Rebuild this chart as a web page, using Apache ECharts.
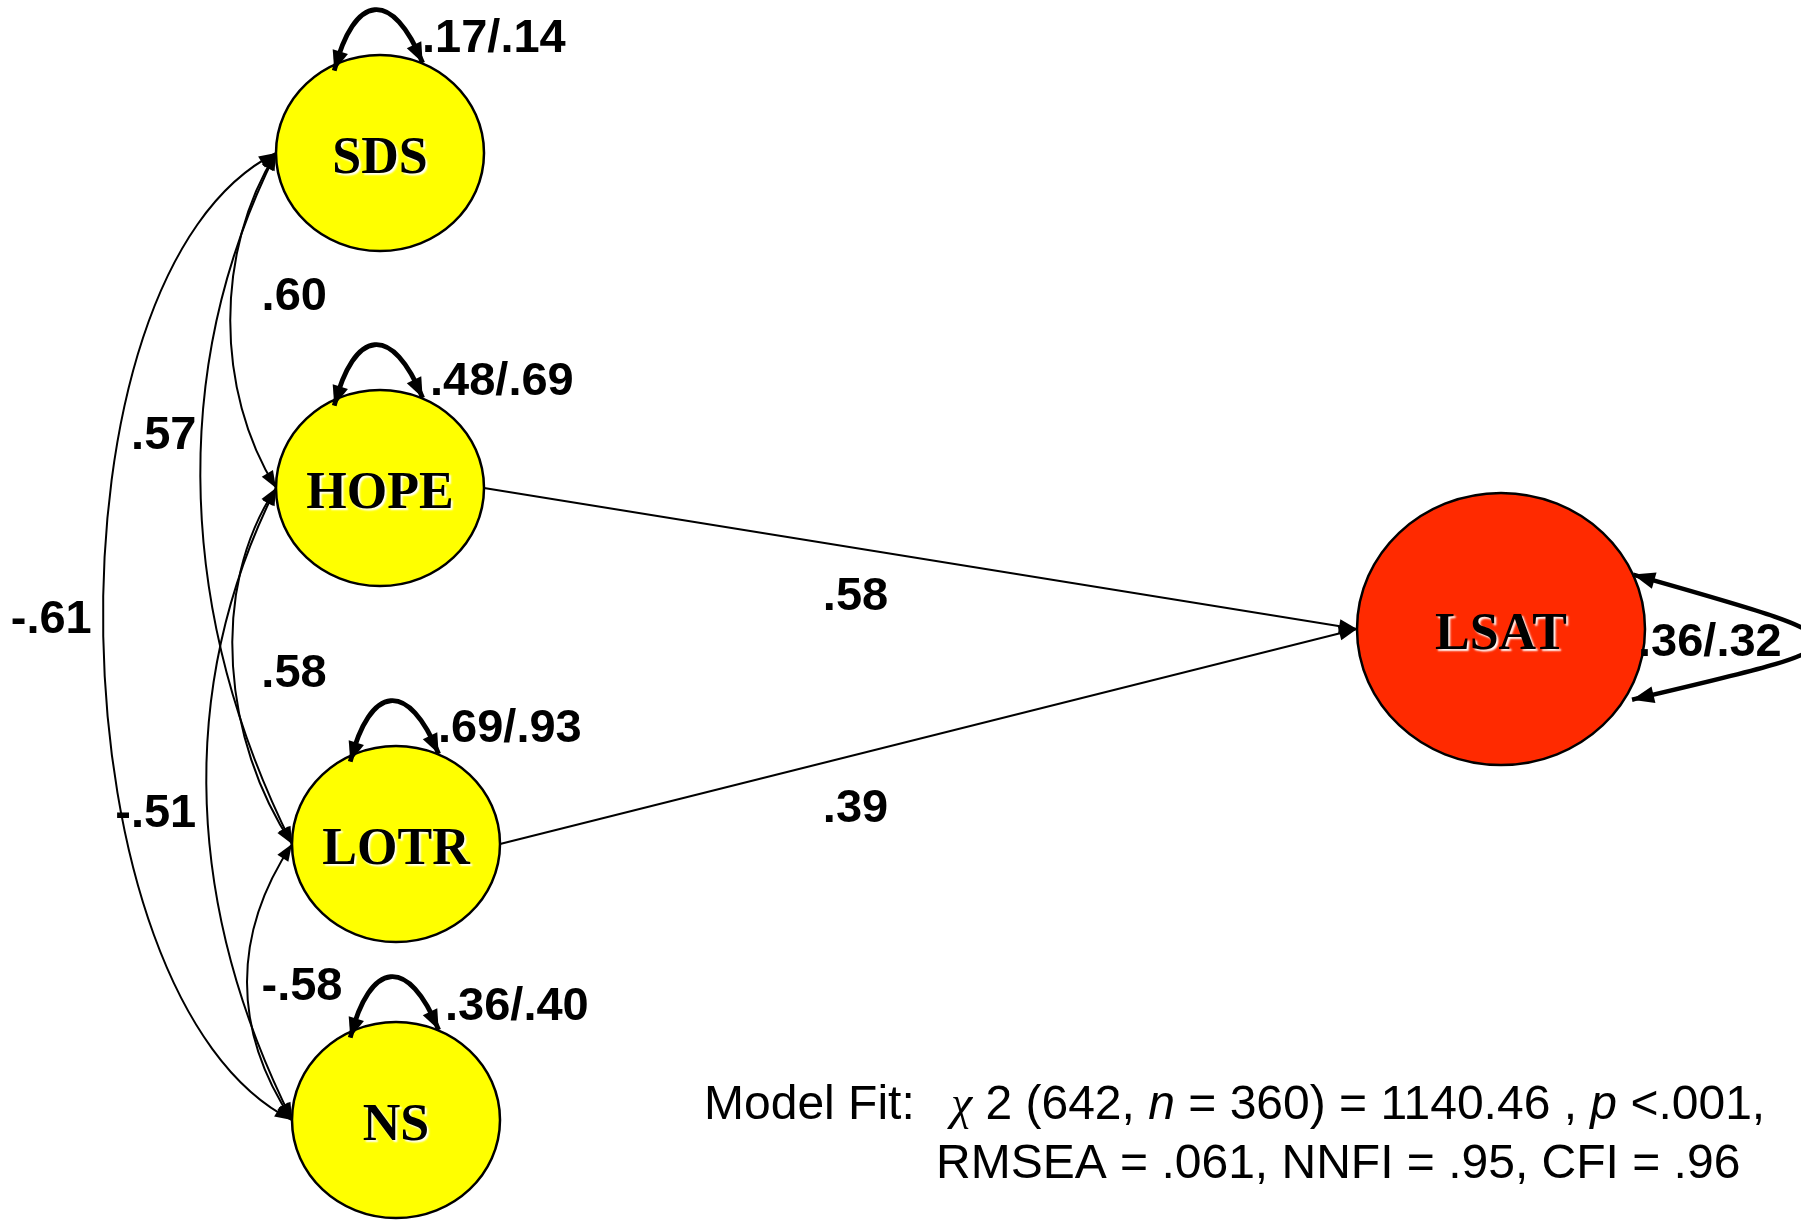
<!DOCTYPE html>
<html>
<head>
<meta charset="utf-8">
<script src="https://cdn.jsdelivr.net/npm/echarts@6/dist/echarts.min.js"></script>
<style>html,body{margin:0;padding:0;background:#fff;}#c{width:1801px;height:1225px;}</style>
</head>
<body>
<div id="c"></div>
<script>
// ---------- data ----------
const nodeNames = ['SDS', 'HOPE', 'LOTR', 'NS', 'LSAT'];
const residualLabels = ['.17/.14', '.48/.69', '.69/.93', '.36/.40', '.36/.32'];
const pathFrom = ['HOPE', 'LOTR'];
const pathTo = ['LSAT', 'LSAT'];
const pathLabels = ['.58', '.39'];
const corrFrom = ['SDS', 'SDS', 'SDS', 'HOPE', 'HOPE', 'LOTR'];
const corrTo = ['HOPE', 'LOTR', 'NS', 'LOTR', 'NS', 'NS'];
const corrLabels = ['.60', '.57', '-.61', '.58', '-.51', '-.58'];
const fitLead = 'Model Fit:';
const fitLine1 = '{g|χ} 2 (642, {i|n} = 360) = 1140.46 , {i|p} <.001,';
const fitLine2 = 'RMSEA = .061, NNFI = .95, CFI = .96';

// ---------- layout & style (diagram units) ----------
const layout = {
  x: { SDS: 380, HOPE: 380, LOTR: 396, NS: 396, LSAT: 1501 },
  y: { SDS: 153, HOPE: 488, LOTR: 844, NS: 1120, LSAT: 629 },
  rx: { SDS: 104, HOPE: 104, LOTR: 104, NS: 104, LSAT: 144 },
  ry: { SDS: 98, HOPE: 98, LOTR: 98, NS: 98, LSAT: 136 },
  fill: { SDS: '#ffff00', HOPE: '#ffff00', LOTR: '#ffff00', NS: '#ffff00', LSAT: '#ff2a00' },
  resOffset: { SDS: [42, -114], HOPE: [50, -106], LOTR: [42, -115], NS: [49, -113], LSAT: [137, 14] },
  corrBend: [[61, 1.6], [111, 2.0], [241, 0.5], [68, 1.5], [103, 2.0], [60, 1.5]],
  corrLabelOffset: [[64, -23], [-37, -62], [-52, -16], [61, 8], [-51, 10], [55, 5]],
  pathLabelOffset: [[-65, 39], [-73, 73]]
};
const valueFont = 'bold 47px "Liberation Sans", Arial, sans-serif';
const nodeFont = 'bold 52px "Liberation Serif", "Times New Roman", serif';
const fitFont = '48px "Liberation Sans", Arial, sans-serif';

function arrowHead(tip, from, len, hw) {
  const dx = tip[0] - from[0], dy = tip[1] - from[1];
  const m = Math.hypot(dx, dy) || 1;
  const ux = dx / m, uy = dy / m;
  const bx = tip[0] - ux * len, by = tip[1] - uy * len;
  return {
    type: 'polygon',
    shape: { points: [[tip[0], tip[1]], [bx - uy * hw, by + ux * hw], [bx + uy * hw, by - ux * hw]] },
    style: { fill: '#000' }
  };
}
function bez(p0, p1, p2, p3, t) {
  const u = 1 - t;
  return [
    u*u*u*p0[0] + 3*u*u*t*p1[0] + 3*u*t*t*p2[0] + t*t*t*p3[0],
    u*u*u*p0[1] + 3*u*u*t*p1[1] + 3*u*t*t*p2[1] + t*t*t*p3[1]
  ];
}
function valueText(x, y, text, align) {
  return {
    type: 'text', x: x, y: y,
    style: { text: text, font: valueFont, fill: '#000', align: align || 'center', verticalAlign: 'middle' }
  };
}

// series data built from arrays
const nodeData = nodeNames.map((n, i) => [layout.x[n], layout.y[n], i]);
const corrData = corrFrom.map((f, i) => [layout.x[f], layout.y[f], i]);
const pathData = pathFrom.map((f, i) => [layout.x[f], layout.y[f], i]);

const chart = echarts.init(document.getElementById('c'), null, { renderer: 'canvas' });
chart.setOption({
  animation: false,
  backgroundColor: '#fff',
  grid: { left: 0, right: 0, top: 0, bottom: 0 },
  xAxis: { type: 'value', min: 0, max: 1801, show: false },
  yAxis: { type: 'value', min: 0, max: 1225, inverse: true, show: false },
  graphic: [
    { type: 'text', x: 704, y: 1106, style: { text: fitLead, font: fitFont, fill: '#000', verticalAlign: 'middle' } },
    { type: 'text', x: 951, y: 1106, style: {
        text: fitLine1, font: fitFont, fill: '#000', verticalAlign: 'middle',
        rich: {
          i: { font: 'italic 48px "Liberation Sans", Arial, sans-serif', fill: '#000' },
          g: { font: 'italic 48px "Liberation Serif", serif', fill: '#000' }
        }
      } },
    { type: 'text', x: 936, y: 1165, style: { text: fitLine2, font: fitFont, fill: '#000', verticalAlign: 'middle' } }
  ],
  series: [
    {
      type: 'custom', name: 'nodes', coordinateSystem: 'cartesian2d', data: nodeData, z: 2,
      renderItem: function (params, api) {
        const name = nodeNames[api.value(2)];
        const c = api.coord([api.value(0), api.value(1)]);
        const s = api.size([layout.rx[name], layout.ry[name]]);
        return {
          type: 'group', children: [
            { type: 'ellipse', shape: { cx: c[0], cy: c[1], rx: s[0], ry: s[1] },
              style: { fill: layout.fill[name], stroke: '#000', lineWidth: 2.5 } },
            { type: 'text', x: c[0], y: c[1] + 7,
              style: { text: name, font: nodeFont, fill: '#000', align: 'center', verticalAlign: 'middle',
                textShadowColor: '#ffffff', textShadowOffsetX: 2, textShadowOffsetY: 2, textShadowBlur: 2 } }
          ]
        };
      }
    },
    {
      type: 'custom', name: 'paths', coordinateSystem: 'cartesian2d', data: pathData, z: 3,
      renderItem: function (params, api) {
        const i = api.value(2);
        const f = pathFrom[i], t = pathTo[i];
        const a = api.coord([layout.x[f] + layout.rx[f], layout.y[f]]);
        const b = api.coord([layout.x[t] - layout.rx[t], layout.y[t]]);
        const off = layout.pathLabelOffset[i];
        const m = api.coord([(layout.x[f] + layout.rx[f] + layout.x[t] - layout.rx[t]) / 2 + off[0],
                             (layout.y[f] + layout.y[t]) / 2 + off[1]]);
        return {
          type: 'group', children: [
            { type: 'line', shape: { x1: a[0], y1: a[1], x2: b[0], y2: b[1] }, style: { stroke: '#000', lineWidth: 2 } },
            arrowHead(b, a, 18, 7),
            valueText(m[0], m[1], pathLabels[i])
          ]
        };
      }
    },
    {
      type: 'custom', name: 'correlations', coordinateSystem: 'cartesian2d', data: corrData, z: 3,
      renderItem: function (params, api) {
        const i = api.value(2);
        const f = corrFrom[i], t = corrTo[i];
        const d = layout.corrBend[i][0], r = layout.corrBend[i][1];
        const x0 = layout.x[f] - layout.rx[f], y0 = layout.y[f];
        const x3 = layout.x[t] - layout.rx[t], y3 = layout.y[t];
        const p0 = api.coord([x0, y0]);
        const p1 = api.coord([x0 - d, y0 + d * r]);
        const p2 = api.coord([x3 - d, y3 - d * r]);
        const p3 = api.coord([x3, y3]);
        const mid = bez(p0, p1, p2, p3, 0.5);
        const off = api.size(layout.corrLabelOffset[i]);
        const o = layout.corrLabelOffset[i];
        const lx = mid[0] + Math.sign(o[0]) * off[0], ly = mid[1] + Math.sign(o[1]) * off[1];
        return {
          type: 'group', children: [
            { type: 'bezierCurve',
              shape: { x1: p0[0], y1: p0[1], cpx1: p1[0], cpy1: p1[1], cpx2: p2[0], cpy2: p2[1], x2: p3[0], y2: p3[1] },
              style: { stroke: '#000', lineWidth: 2, fill: null } },
            arrowHead(p0, bez(p0, p1, p2, p3, 0.04), 17, 6.5),
            arrowHead(p3, bez(p0, p1, p2, p3, 0.96), 17, 6.5),
            valueText(lx, ly, corrLabels[i])
          ]
        };
      }
    },
    {
      type: 'custom', name: 'residuals', coordinateSystem: 'cartesian2d', data: nodeData, z: 4,
      renderItem: function (params, api) {
        const i = api.value(2);
        const n = nodeNames[i];
        const cx = layout.x[n], cy = layout.y[n], rx = layout.rx[n], ry = layout.ry[n];
        const children = [];
        if (n === 'LSAT') {
          const u = [cx + 0.917 * rx, cy - 0.40 * ry];
          const b = [cx + 0.91 * rx, cy + 0.52 * ry];
          const p0 = api.coord(u);
          const p1 = api.coord([u[0] + 246, u[1] + 70]);
          const p2 = api.coord([b[0] + 246, b[1] - 58]);
          const p3 = api.coord(b);
          children.push({ type: 'bezierCurve',
            shape: { x1: p0[0], y1: p0[1], cpx1: p1[0], cpy1: p1[1], cpx2: p2[0], cpy2: p2[1], x2: p3[0], y2: p3[1] },
            style: { stroke: '#000', lineWidth: 4.5, fill: null } });
          children.push(arrowHead(p0, bez(p0, p1, p2, p3, 0.05), 22, 8.5));
          children.push(arrowHead(p3, bez(p0, p1, p2, p3, 0.95), 22, 8.5));
        } else {
          const l = [cx - 0.44 * rx, cy - 0.84 * ry];
          const r = [cx + 0.41 * rx, cy - 0.92 * ry];
          const p0 = api.coord(l);
          const p1 = api.coord([l[0] + 20, l[1] - 78]);
          const p2 = api.coord([r[0] - 30, r[1] - 74]);
          const p3 = api.coord(r);
          children.push({ type: 'bezierCurve',
            shape: { x1: p0[0], y1: p0[1], cpx1: p1[0], cpy1: p1[1], cpx2: p2[0], cpy2: p2[1], x2: p3[0], y2: p3[1] },
            style: { stroke: '#000', lineWidth: 4.8, fill: null } });
          children.push(arrowHead(p0, bez(p0, p1, p2, p3, 0.12), 20, 8));
          children.push(arrowHead(p3, bez(p0, p1, p2, p3, 0.88), 20, 8));
        }
        const lp = api.coord([cx + layout.resOffset[n][0], cy + layout.resOffset[n][1]]);
        children.push(valueText(lp[0], lp[1], residualLabels[i], 'left'));
        return { type: 'group', children: children };
      }
    }
  ]
});
</script>
</body>
</html>
